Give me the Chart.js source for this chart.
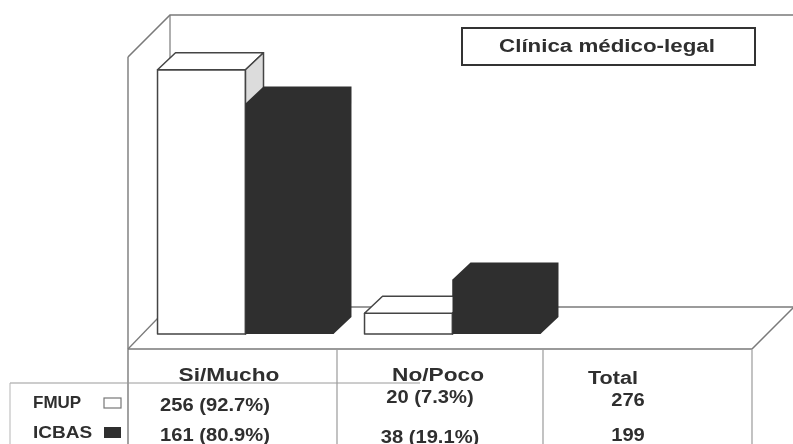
<!DOCTYPE html>
<html>
<head>
<meta charset="utf-8">
<script src="https://cdn.jsdelivr.net/npm/chart.js@4/dist/chart.umd.min.js"></script>
<style>
  html, body { margin: 0; padding: 0; background: #fff; }
  canvas { display: block; }
</style>
</head>
<body>
<canvas id="c" width="793" height="444"></canvas>
<script>
// Categories and series (percent of each school's total)
const categories = ['Si/Mucho', 'No/Poco'];
const seriesNames = ['FMUP', 'ICBAS'];
const fmupPct = [92.7, 7.3];
const icbasPct = [80.9, 19.1];
// Counts shown in the data table
const fmupCounts = [256, 20];
const icbasCounts = [161, 38];
const totals = [276, 199];
const totalHeader = 'Total';
const chartTitle = 'Clínica médico-legal';

const INK = '#2f2f2f';
const LINE = '#7a7a7a';
const DEPTH = { dx: 18, dy: -17 };     // bar extrusion
const FLOOR = { dx: 42, dy: -42 };     // wall / floor depth

function stretchedText(ctx, txt, x, y, size, sx, align) {
  ctx.save();
  ctx.font = 'bold ' + size + 'px "Liberation Sans", Arial, sans-serif';
  ctx.textBaseline = 'middle';
  ctx.textAlign = align || 'center';
  ctx.translate(x, y);
  ctx.scale(sx, 1);
  ctx.fillStyle = INK;
  ctx.fillText(txt, 0, 0);
  ctx.restore();
}

function line(ctx, pts, color, w) {
  ctx.beginPath();
  ctx.moveTo(pts[0][0], pts[0][1]);
  for (let i = 1; i < pts.length; i++) ctx.lineTo(pts[i][0], pts[i][1]);
  ctx.strokeStyle = color;
  ctx.lineWidth = w;
  ctx.stroke();
}

// light bar: outlined front, top and side faces
function drawLightBox(ctx, bar) {
  const l = bar.x - bar.width / 2, r = bar.x + bar.width / 2;
  const t = bar.y, b = bar.base;
  const { dx, dy } = DEPTH;
  ctx.save();
  ctx.lineWidth = 1.5;
  ctx.strokeStyle = '#444';
  ctx.lineJoin = 'round';
  ctx.fillStyle = '#fff';
  ctx.beginPath();
  ctx.rect(l, t, r - l, b - t);
  ctx.fill(); ctx.stroke();
  ctx.beginPath();
  ctx.moveTo(l, t); ctx.lineTo(l + dx, t + dy); ctx.lineTo(r + dx, t + dy); ctx.lineTo(r, t);
  ctx.closePath();
  ctx.fill(); ctx.stroke();
  ctx.beginPath();
  ctx.moveTo(r, t); ctx.lineTo(r + dx, t + dy); ctx.lineTo(r + dx, b + dy); ctx.lineTo(r, b);
  ctx.closePath();
  ctx.fillStyle = '#dcdcdc';
  ctx.fill(); ctx.stroke();
  ctx.restore();
}

// dark bar: one solid silhouette of the box
function drawDarkBox(ctx, bar) {
  const l = bar.x - bar.width / 2, r = bar.x + bar.width / 2;
  const t = bar.y, b = bar.base;
  const { dx, dy } = DEPTH;
  ctx.save();
  ctx.beginPath();
  ctx.moveTo(l, b);
  ctx.lineTo(l, t);
  ctx.lineTo(l + dx, t + dy);
  ctx.lineTo(r + dx, t + dy);
  ctx.lineTo(r + dx, b + dy);
  ctx.lineTo(r, b);
  ctx.closePath();
  ctx.fillStyle = INK;
  ctx.fill();
  ctx.restore();
}

const frame3d = {
  id: 'frame3d',
  beforeDatasetsDraw(chart) {
    const ctx = chart.ctx;
    const a = chart.chartArea;
    const fx = a.left - 14;               // front-left x of the wall
    const floorFront = a.bottom + 15;
    const floorBack = floorFront + FLOOR.dy;
    const wallTop = 15;
    const frontTop = wallTop - FLOOR.dy;
    const rightFront = 752;
    ctx.save();
    // back wall top edge and left wall
    line(ctx, [[fx, frontTop], [fx + FLOOR.dx, wallTop], [793, wallTop]], LINE, 1.6);
    line(ctx, [[fx + FLOOR.dx, wallTop], [fx + FLOOR.dx, floorBack]], LINE, 1.2);
    line(ctx, [[fx, frontTop], [fx, 444]], LINE, 1.4);
    // floor slab
    line(ctx, [[fx, floorFront], [fx + FLOOR.dx - 12, floorBack + 11]], LINE, 1.3);
    line(ctx, [[fx + FLOOR.dx, floorBack], [793, floorBack]], LINE, 1.3);
    line(ctx, [[fx, floorFront], [rightFront, floorFront], [rightFront + FLOOR.dx, floorBack]], LINE, 1.5);
    ctx.restore();
  },
  afterDatasetsDraw(chart) {
    const ctx = chart.ctx;
    chart.getDatasetMeta(0).data.forEach(bar => drawLightBox(ctx, bar));
    chart.getDatasetMeta(1).data.forEach(bar => drawDarkBox(ctx, bar));
  },
  afterDraw(chart) {
    const ctx = chart.ctx;
    ctx.save();
    // title box
    ctx.lineWidth = 2;
    ctx.strokeStyle = '#333';
    ctx.strokeRect(462, 28, 293, 37);
    stretchedText(ctx, chartTitle, 607, 47, 18, 1.24);

    // data table grid
    const cols = [128, 337, 543, 752];
    cols.slice(1).forEach(x => line(ctx, [[x, 350], [x, 444]], '#9a9a9a', 1.2));
    line(ctx, [[10, 383], [128, 383]], '#9a9a9a', 1.2);
    line(ctx, [[128, 383], [420, 383]], '#9a9a9a', 1.0);
    line(ctx, [[10, 383], [10, 444]], '#b5b5b5', 1.0);

    // header
    const centers = [229, 438];
    categories.forEach((c, i) => stretchedText(ctx, c, centers[i], 376, 18, 1.26));
    stretchedText(ctx, totalHeader, 613, 379, 18, 1.2);

    // row labels with swatches
    stretchedText(ctx, seriesNames[0], 33, 403, 17, 1.0, 'left');
    stretchedText(ctx, seriesNames[1], 33, 433, 17, 1.12, 'left');
    ctx.lineWidth = 1.2;
    ctx.strokeStyle = '#777';
    ctx.fillStyle = '#fff';
    ctx.fillRect(104, 398, 17, 10);
    ctx.strokeRect(104, 398, 17, 10);
    ctx.fillStyle = INK;
    ctx.fillRect(104, 427, 17, 11);

    // values
    const rows = [[fmupCounts, fmupPct, 406, 401, 398], [icbasCounts, icbasPct, 436, 436, 438]];
    rows.forEach((row, r) => {
      const [counts, pct, y1, yT, y2] = row;
      stretchedText(ctx, counts[0] + ' (' + pct[0].toFixed(1) + '%)', 215, y1, 18, 1.12);
      stretchedText(ctx, counts[1] + ' (' + pct[1].toFixed(1) + '%)', 430, y2, 18, 1.12);
      stretchedText(ctx, String(totals[r]), 628, yT, 18, 1.12);
    });
    ctx.restore();
  }
};

new Chart(document.getElementById('c'), {
  type: 'bar',
  data: {
    labels: categories,
    datasets: [
      { label: seriesNames[0], data: fmupPct, backgroundColor: '#fff', borderColor: '#444', borderWidth: 1.5 },
      { label: seriesNames[1], data: icbasPct, backgroundColor: INK, borderWidth: 0 }
    ]
  },
  options: {
    responsive: false,
    devicePixelRatio: 1,
    animation: false,
    layout: { padding: { left: 142, right: 237, top: 49, bottom: 110 } },
    datasets: { bar: { categoryPercentage: 0.85, barPercentage: 1.0 } },
    plugins: { legend: { display: false }, tooltip: { enabled: false }, title: { display: false } },
    scales: {
      x: { display: false, grid: { display: false } },
      y: { display: false, min: 0, max: 100, grid: { display: false } }
    }
  },
  plugins: [frame3d]
});
</script>
</body>
</html>
